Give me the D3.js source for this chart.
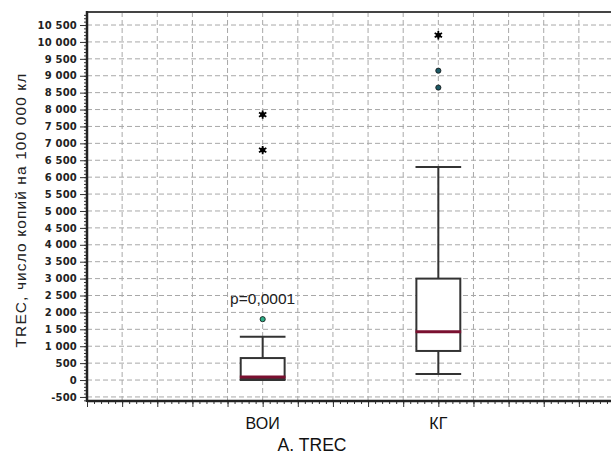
<!DOCTYPE html>
<html>
<head>
<meta charset="utf-8">
<script src="https://cdn.jsdelivr.net/npm/d3@7"></script>
<style>
  body { margin: 0; background: #fff; }
  svg { display: block; }
</style>
</head>
<body>
<svg width="611" height="455"></svg>
<script>
// Данные
var groups = ["ВОИ", "КГ"];
var groupPos = [5, 10];               // позиция на сетке оси X
var whiskerLow = [0, 180];
var q1 = [30, 860];
var median = [90, 1430];
var q3 = [650, 3000];
var whiskerHigh = [1280, 6300];
var outliers = [[1800], [8650, 9150]];
var extremes = [[6800, 7850], [10200]];
var yTicks = d3.range(-500, 10501, 500);
var pLabel = "p=0,0001";
var xTitle = "А. TREC";
var yTitle = "TREC, число копий на 100 000 кл";

var svg = d3.select("svg"),
    margin = { top: 12, left: 87, bottom: 401, right: 614 };

var x = d3.scaleLinear().domain([0, 15]).range([margin.left, margin.right]),
    y = d3.scaleLinear().domain([-620, 10885]).range([margin.bottom, margin.top]);

var fmt = function (d) { return d3.format(",")(d).replace(/,/g, " ").replace("−", "-"); };

// сетка
svg.append("g").selectAll("line")
    .data(yTicks)
    .enter().append("line")
    .attr("x1", margin.left).attr("x2", 611)
    .attr("y1", function (d) { return y(d); })
    .attr("y2", function (d) { return y(d); })
    .attr("stroke", "#a8a8a8").attr("stroke-width", 1)
    .attr("stroke-dasharray", "5,3");

svg.append("g").selectAll("line")
    .data(d3.range(1, 15))
    .enter().append("line")
    .attr("x1", function (d) { return x(d); })
    .attr("x2", function (d) { return x(d); })
    .attr("y1", margin.top).attr("y2", margin.bottom)
    .attr("stroke", "#a8a8a8").attr("stroke-width", 1)
    .attr("stroke-dasharray", "5,3");

// ось Y
var yAxis = svg.append("g")
    .attr("transform", "translate(" + margin.left + ",0)")
    .call(d3.axisLeft(y).tickValues(yTicks).tickFormat(fmt).tickSize(7).tickPadding(3));
yAxis.select(".domain").remove();
yAxis.selectAll("text")
    .style("font-family", "DejaVu Sans")
    .style("font-weight", "bold")
    .style("font-size", "10px")
    .style("letter-spacing", "0.2px")
    .attr("fill", "#222");
yAxis.selectAll(".tick line").attr("stroke", "#333");

svg.append("g")
    .attr("transform", "translate(" + margin.left + ",0)")
    .call(d3.axisLeft(y).tickValues(d3.range(-600, 10801, 100)).tickFormat("").tickSize(3))
    .call(function (g) { g.select(".domain").remove(); })
    .selectAll("line").attr("stroke", "#333");

// ось X (деления)
svg.append("g")
    .attr("transform", "translate(0," + margin.bottom + ")")
    .call(d3.axisBottom(x).tickValues(d3.range(0, 15.01, 0.2)).tickFormat("").tickSize(3))
    .call(function (g) { g.select(".domain").remove(); })
    .selectAll("line").attr("stroke", "#333");
svg.append("g")
    .attr("transform", "translate(0," + margin.bottom + ")")
    .call(d3.axisBottom(x).tickValues(d3.range(0, 16)).tickFormat("").tickSize(6))
    .call(function (g) { g.select(".domain").remove(); })
    .selectAll("line").attr("stroke", "#333");

// рамка
svg.append("line").attr("x1", margin.left).attr("x2", 611)
    .attr("y1", margin.top).attr("y2", margin.top)
    .attr("stroke", "#444").attr("stroke-width", 2);
svg.append("line").attr("x1", margin.left).attr("x2", margin.left)
    .attr("y1", margin.top - 1).attr("y2", margin.bottom + 1)
    .attr("stroke", "#222").attr("stroke-width", 2.5);
svg.append("line").attr("x1", margin.left).attr("x2", 611)
    .attr("y1", margin.bottom).attr("y2", margin.bottom)
    .attr("stroke", "#222").attr("stroke-width", 2.5);

// ящики
var boxW = 1.25, capW = 1.3;
var data = groups.map(function (g, i) {
    return { name: g, pos: groupPos[i], lo: whiskerLow[i], q1: q1[i], med: median[i], q3: q3[i], hi: whiskerHigh[i] };
});

var b = svg.append("g").selectAll("g").data(data).enter().append("g");

b.append("line")
    .attr("x1", function (d) { return x(d.pos); })
    .attr("x2", function (d) { return x(d.pos); })
    .attr("y1", function (d) { return y(d.lo); })
    .attr("y2", function (d) { return y(d.hi); })
    .attr("stroke", "#333").attr("stroke-width", 2);

b.selectAll(".cap").data(function (d) { return [[d.pos, d.lo], [d.pos, d.hi]]; })
    .enter().append("line")
    .attr("x1", function (d) { return x(d[0] - capW / 2); })
    .attr("x2", function (d) { return x(d[0] + capW / 2); })
    .attr("y1", function (d) { return y(d[1]); })
    .attr("y2", function (d) { return y(d[1]); })
    .attr("stroke", "#333").attr("stroke-width", 2);

b.append("rect")
    .attr("x", function (d) { return x(d.pos - boxW / 2); })
    .attr("width", function (d) { return x(boxW) - x(0); })
    .attr("y", function (d) { return y(d.q3); })
    .attr("height", function (d) { return y(d.q1) - y(d.q3); })
    .attr("fill", "#fff").attr("stroke", "#333").attr("stroke-width", 2);

b.append("line")
    .attr("x1", function (d) { return x(d.pos - capW / 2); })
    .attr("x2", function (d) { return x(d.pos + capW / 2); })
    .attr("y1", function (d) { return y(d.med); })
    .attr("y2", function (d) { return y(d.med); })
    .attr("stroke", "#7a1030").attr("stroke-width", 3);

// выбросы
var outPts = [], extPts = [];
groups.forEach(function (g, i) {
    outliers[i].forEach(function (v) { outPts.push({ pos: groupPos[i], v: v, i: i }); });
    extremes[i].forEach(function (v) { extPts.push({ pos: groupPos[i], v: v }); });
});

svg.append("g").selectAll("circle").data(outPts).enter().append("circle")
    .attr("cx", function (d) { return x(d.pos); })
    .attr("cy", function (d) { return y(d.v); })
    .attr("r", 2.6)
    .attr("fill", function (d) { return d.i === 0 ? "#2fae86" : "#1d5a66"; })
    .attr("stroke", "#111").attr("stroke-width", 0.8);

var star = d3.symbol().type(d3.symbolAsterisk).size(50);
svg.append("g").selectAll("path").data(extPts).enter().append("path")
    .attr("transform", function (d) { return "translate(" + x(d.pos) + "," + y(d.v) + ")"; })
    .attr("d", star)
    .attr("fill", "none").attr("stroke", "#000").attr("stroke-width", 1.8);
svg.append("g").selectAll("circle").data(extPts).enter().append("circle")
    .attr("cx", function (d) { return x(d.pos); })
    .attr("cy", function (d) { return y(d.v); })
    .attr("r", 2.5).attr("fill", "#000");

// подписи
svg.append("text")
    .attr("x", x(groupPos[0])).attr("y", y(2250))
    .attr("text-anchor", "middle")
    .style("font-family", "Liberation Sans, Arial, sans-serif")
    .style("font-size", "15.5px")
    .attr("fill", "#222")
    .text(pLabel);

svg.append("g").selectAll("text").data(data).enter().append("text")
    .attr("x", function (d) { return x(d.pos); })
    .attr("y", 429)
    .attr("text-anchor", "middle")
    .style("font-family", "Liberation Sans, Arial, sans-serif")
    .style("font-size", "16px")
    .attr("fill", "#111")
    .text(function (d) { return d.name; });

svg.append("text")
    .attr("x", 312).attr("y", 451)
    .attr("text-anchor", "middle")
    .style("font-family", "Liberation Sans, Arial, sans-serif")
    .style("font-size", "17.5px")
    .attr("fill", "#111")
    .text(xTitle);

svg.append("text")
    .attr("transform", "translate(25.5,210) rotate(-90)")
    .attr("text-anchor", "middle")
    .style("font-family", "Liberation Sans, Arial, sans-serif")
    .style("font-size", "15.5px")
    .style("letter-spacing", "1.1px")
    .attr("fill", "#222")
    .text(yTitle);
</script>
</body>
</html>
